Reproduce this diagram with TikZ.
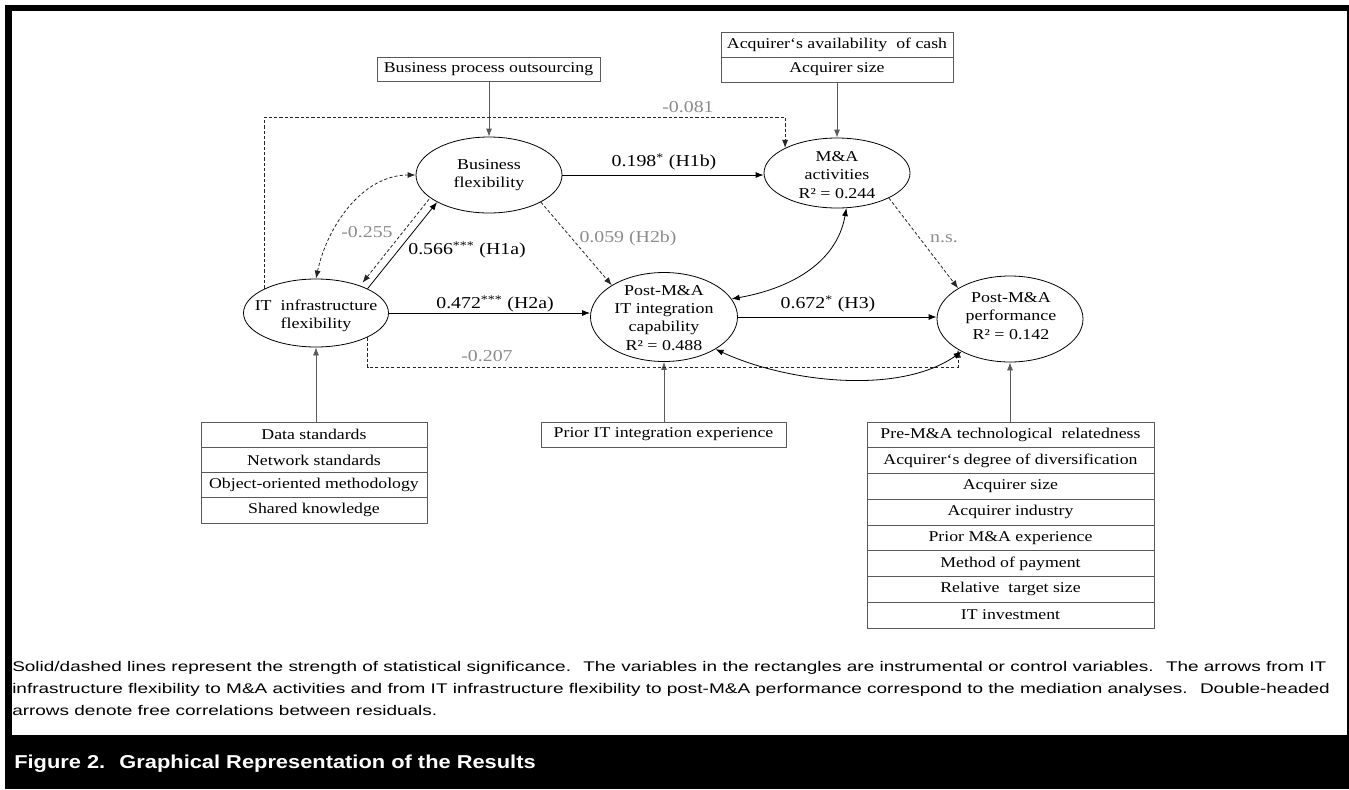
\documentclass[tikz,border=0pt]{standalone}
\usepackage{fontspec}
\setmainfont{Liberation Serif}[FakeStretch=1.19]
\newfontfamily\captfont{Liberation Sans}[FakeStretch=1.355]
\newfontfamily\titlefont{Liberation Sans}[FakeStretch=1.17]
\usetikzlibrary{shapes.geometric,arrows.meta}
\definecolor{lblgray}{RGB}{140,140,140}
\definecolor{boxgray}{RGB}{90,90,90}
\begin{document}
\begin{tikzpicture}[x=0.75pt,y=-0.75pt,
  latent/.style={draw, ellipse, inner sep=0pt, line width=0.6pt},
  ltext/.style={align=center, inner sep=0pt, font=\fontsize{11.3}{13.6}\selectfont},
  ctrl/.style={draw=boxgray, rectangle, inner sep=0pt, line width=0.6pt, font=\fontsize{11.2}{13}\selectfont},
  arr/.style={-{Latex[length=6pt,width=4.5pt]}, line width=0.6pt},
  darr/.style={{Latex[length=6pt,width=4.5pt]}-{Latex[length=6pt,width=4.5pt]}, line width=0.6pt},
  dsh/.style={dash pattern=on 2.4pt off 1.6pt, line width=0.6pt, draw=black!85},
  coef/.style={inner sep=0pt, font=\fontsize{12.5}{14}\selectfont},
  gcoef/.style={coef, text=lblgray},
  capt/.style={anchor=base west, inner sep=0pt, font=\captfont\fontsize{10.5}{12}\selectfont}
]
% frame
\useasboundingbox (0,0) rectangle (1349,789);
\fill[white] (0,0) rectangle (1349,789);
\fill[black] (5,5) rectangle (1349,789);
\fill[white] (12,11) rectangle (1347,735);

% latent variables
\node[latent, minimum width=109.5pt, minimum height=57pt] (bf) at (489,175) {};
\node[latent, minimum width=109.5pt, minimum height=52.5pt] (ma) at (837,173) {};
\node[latent, minimum width=108.75pt, minimum height=51pt] (itf) at (316,313) {};
\node[latent, minimum width=110.25pt, minimum height=66.75pt] (pit) at (664,317) {};
\node[latent, minimum width=109.5pt, minimum height=64.5pt] (perf) at (1010,319) {};

\node[ltext] (bft) at (489,175) {Business\\flexibility};
\node[ltext] (mat) at (837,175) {M\&A\\activities\\R² = 0.244};
\node[ltext] (itft) at (316,316) {IT~ infrastructure\\flexibility};
\node[ltext] (pitt) at (664,318) {Post-M\&A\\IT integration\\capability\\R² = 0.488};
\node[ltext] (perft) at (1011,316) {Post-M\&A\\performance\\R² = 0.142};

% control boxes
\node[ctrl, minimum width=167.25pt, minimum height=18pt] (bpo) at (488.5,69) {Business process outsourcing};
\node[ctrl, minimum width=174pt, minimum height=18.75pt] (acq1) at (837,44.5) {Acquirer‘s availability~ of cash};
\node[ctrl, minimum width=174pt, minimum height=18.75pt] (acq2) at (837,69.5) {Acquirer size};
\node[ctrl, minimum width=183.75pt, minimum height=18.75pt] (prior) at (663.5,434.5) {Prior IT integration experience};
\foreach \t [count=\i] in {Data standards, Network standards, Object-oriented methodology, Shared knowledge}
  \node[ctrl, minimum width=169.5pt, minimum height=18.94pt] (itfc\i) at (314,{409.4+25.25*\i}) {\t};
\foreach \t [count=\i] in {Pre-M\&A technological~ relatedness, Acquirer‘s degree of diversification, Acquirer size, Acquirer industry, Prior M\&A experience, Method of payment, Relative~ target size, IT investment}
  \node[ctrl, minimum width=215.25pt, minimum height=19.31pt] (perfc\i) at (1010.5,{409.1+25.75*\i}) {\t};

% arrows from control boxes
\draw[arr, draw=boxgray] (bpo.south -| bf.north) -- (bf.north);
\draw[arr, draw=boxgray] (acq2.south -| ma.north) -- (ma.north);
\draw[arr, draw=boxgray] (prior.north -| pit.south) -- (pit.south);
\draw[arr, draw=boxgray] (itfc1.north -| itf.south) -- (itf.south);
\draw[arr, draw=boxgray] (perfc1.north -| perf.south) -- (perf.south);

% structural paths
\draw[arr] (bf.east) -- (bf.east -| ma.west);
\draw[arr] (itf.east) -- (itf.east -| pit.west);
\draw[arr] (pit.east) -- (pit.east -| perf.west);
\draw[arr] (itf.north east) -- (bf.south west);
\draw[arr, dsh] ([shift={(-8,-3)}]bf.south west) -- ([shift={(-5,-6)}]itf.north east);
\draw[arr, dsh] (bf.south east) -- (pit.north west);
\draw[arr, dsh] (ma.south east) -- (perf.north west);
\coordinate (d081) at (0,117);
\coordinate (d207) at (0,367);
\draw[arr, dsh] (itf.north west) |- (d081 -| ma.north west) -- (ma.north west);
\draw[arr, dsh] (itf.south east) |- (d207 -| perf.south west) -- (perf.south west);
\draw[darr, dsh] (itf.north) to[out=78, in=180, looseness=0.95] (bf.west);
\draw[darr] (ma.-75) to[out=-100, in=10] (pit.15);
\draw[darr] (pit.-32) to[out=-25, in=-145, looseness=0.8] (perf.-146);

% coefficients
\node[gcoef] (l081) at (688,107) {-0.081};
\node[coef] (l198) at (664,162) {0.198\textsuperscript{*} (H1b)};
\node[gcoef] (l255) at (367,232) {-0.255};
\node[coef] (l566) at (467,250) {0.566\textsuperscript{***} (H1a)};
\node[gcoef] (l059) at (628,238) {0.059 (H2b)};
\node[gcoef] (lns) at (944,239) {n.s.};
\node[coef] (l472) at (495,304) {0.472\textsuperscript{***} (H2a)};
\node[coef] (l672) at (828,304) {0.672\textsuperscript{*} (H3)};
\node[gcoef] (l207) at (487,356) {-0.207};

% caption
\node[capt] (cap1) at (12,671) {Solid/dashed lines represent the strength of statistical significance.~ The variables in the rectangles are instrumental or control variables.~ The arrows from IT};
\node[capt] (cap2) at (12,693) {infrastructure flexibility to M\&A activities and from IT infrastructure flexibility to post-M\&A performance correspond to the mediation analyses.~ Double-headed};
\node[capt] (cap3) at (12,715) {arrows denote free correlations between residuals.};
\node[anchor=base west, inner sep=0pt, text=white, font=\titlefont\bfseries\fontsize{14}{16}\selectfont] (title) at (14,768) {Figure 2.~ Graphical Representation of the Results};
\end{tikzpicture}
\end{document}
